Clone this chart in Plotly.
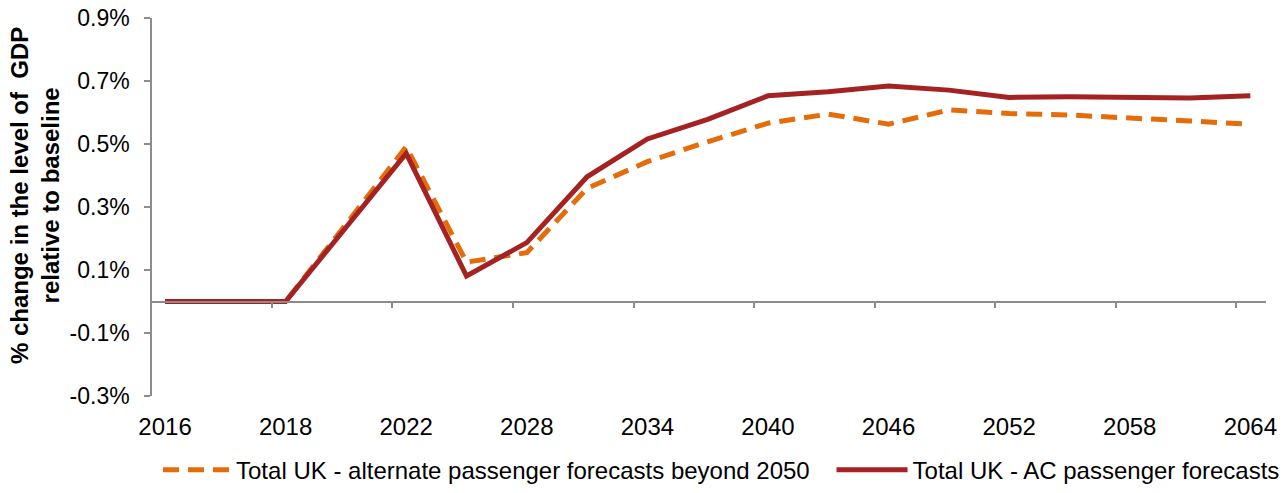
import plotly.graph_objects as go

years = ["2016", "2017", "2018", "2020", "2022", "2025", "2028", "2031", "2034", "2037",
         "2040", "2043", "2046", "2049", "2052", "2055", "2058", "2061", "2064"]
alt_forecast = [0, 0, 0, 0.245, 0.491, 0.125, 0.155, 0.359, 0.444, 0.507,
                0.566, 0.595, 0.563, 0.608, 0.597, 0.592, 0.584, 0.573, 0.563]
ac_forecast = [0, 0, 0, 0.235, 0.470, 0.081, 0.187, 0.396, 0.516, 0.578,
               0.653, 0.666, 0.684, 0.671, 0.648, 0.650, 0.648, 0.646, 0.653]
y_ticks = [-0.3, -0.1, 0.1, 0.3, 0.5, 0.7, 0.9]

idx = list(range(len(years)))
label_idx = idx[::2]
xr = [-0.216, 18.26]
font = "Arial, Liberation Sans, sans-serif"
grey = "#8c8c8c"

fig = go.Figure()
fig.add_trace(go.Scatter(x=idx, y=alt_forecast, mode="lines", legend="legend",
                         name="Total UK - alternate passenger forecasts beyond 2050",
                         line=dict(color="#e46c0a", width=5, dash="16px,9px")))
fig.add_trace(go.Scatter(x=idx, y=ac_forecast, mode="lines", xaxis="x2", legend="legend2",
                         name="Total UK - AC passenger forecasts",
                         line=dict(color="#a52222", width=5)))

fig.update_layout(
    width=1287, height=493,
    margin=dict(l=152, r=21, t=18, b=97, autoexpand=False),
    paper_bgcolor="white", plot_bgcolor="white",
    font=dict(family=font, size=24, color="black"),
    showlegend=True,
    legend=dict(orientation="h", x=0.0054, xanchor="left", y=-0.196, yanchor="middle",
                font=dict(size=24), itemwidth=68),
    legend2=dict(orientation="h", x=0.610, xanchor="left", y=-0.196, yanchor="middle",
                 font=dict(size=24), itemwidth=71),
    xaxis=dict(range=xr, tickmode="array", tickvals=label_idx,
               ticktext=[years[i] for i in label_idx], showline=False, ticks="",
               showgrid=False, zeroline=False, ticklabelstandoff=14, automargin=False,
               ticklabeloverflow="allow"),
    xaxis2=dict(range=xr, overlaying="x", anchor="free", position=0.25, side="bottom",
                tickmode="array", tickvals=[i - 0.23 for i in label_idx[1:]],
                showticklabels=False, ticks="outside", ticklen=6, tickcolor=grey,
                tickwidth=1.5, showline=True, linecolor=grey, linewidth=1.5,
                showgrid=False, zeroline=False, automargin=False),
    yaxis=dict(range=[-0.3, 0.9], tickmode="array", tickvals=y_ticks,
               ticktext=[f"{v:.1f}%" for v in y_ticks], ticks="outside", ticklen=6,
               tickcolor=grey, tickwidth=1.5, showline=True, linecolor=grey, linewidth=1.5,
               showgrid=False, zeroline=False, ticklabelstandoff=10, automargin=False,
               ticklabeloverflow="allow", tickfont=dict(size=23)),
)

fig.add_annotation(text="<b>% change in the level of  GDP<br>relative to baseline</b>",
                   xref="paper", yref="paper", x=-0.105, y=0.529, textangle=-90,
                   showarrow=False, font=dict(size=24), xanchor="center", yanchor="middle")

# drop the default page margin so the figure sits at the window's corner
fig.write_html("out.html", config={"displayModeBar": False},
               post_script="document.body.style.margin='0';")
